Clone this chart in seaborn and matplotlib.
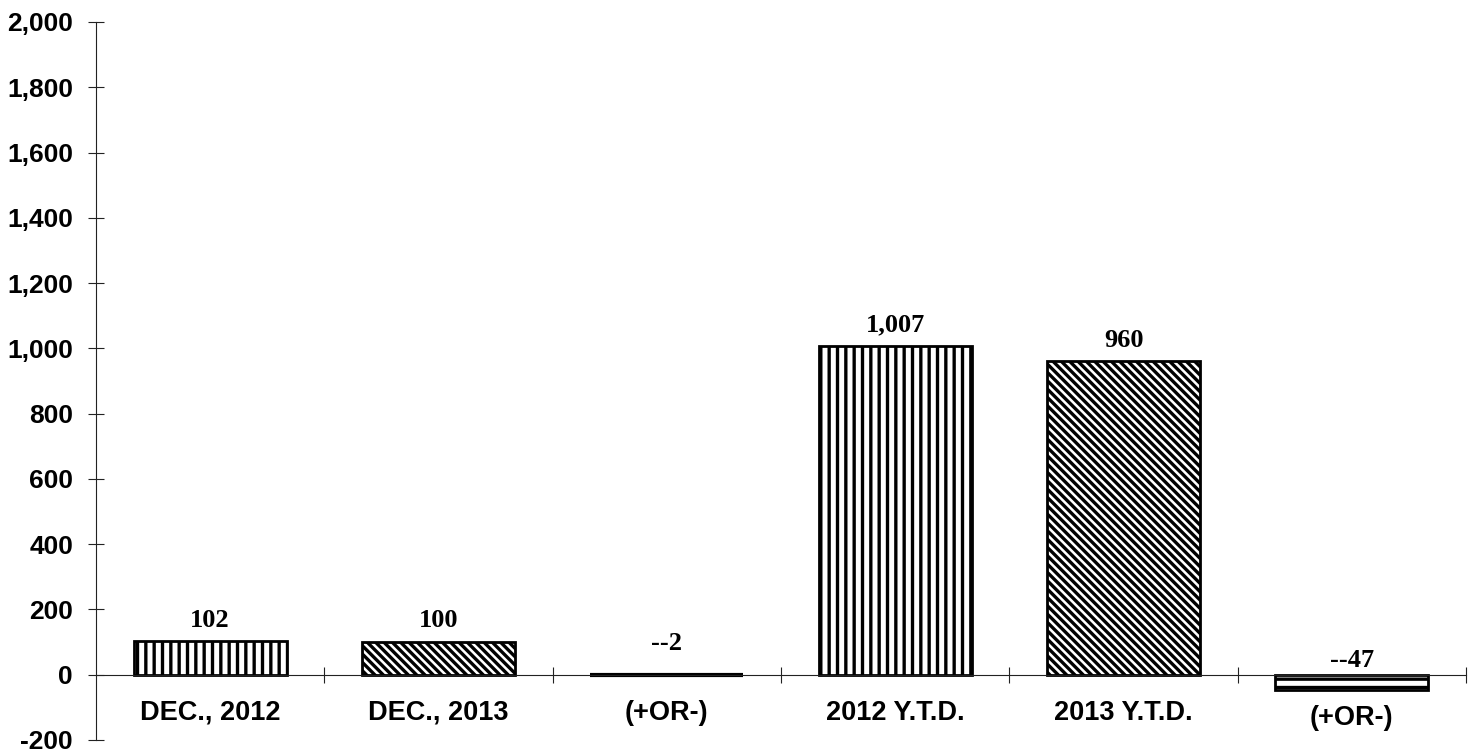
import matplotlib
matplotlib.use("Agg")
import matplotlib.pyplot as plt
import matplotlib.transforms as mtransforms
from matplotlib.ticker import FixedLocator, StrMethodFormatter
import pandas as pd
import seaborn as sns

# values
categories = ["DEC., 2012", "DEC., 2013", "(+OR-)", "2012 Y.T.D.", "2013 Y.T.D.", "(+OR-)"]
values = [102, 100, -2, 1007, 960, -47]
value_labels = ["102", "100", "--2", "1,007", "960", "--47"]
y_ticks = list(range(-200, 2001, 200))

# styling per bar
hatches = ["||", "\\\\\\\\", "", "||", "\\\\\\\\", "--"]
edge_widths = [2.0, 2.0, 3.0, 2.0, 2.0, 2.0]
label_pad = [7, 7, 14, 7, 7, 2]  # points above bar top (or zero line)


def main():
    sns.set_style("white")
    plt.rcParams["font.family"] = ["Liberation Sans", "DejaVu Sans"]
    plt.rcParams["axes.unicode_minus"] = False
    plt.rcParams["hatch.linewidth"] = 2.4
    plt.rcParams["hatch.color"] = "black"
    plt.rcParams["text.color"] = "black"

    df = pd.DataFrame({"pos": range(len(values)), "value": values})

    fig = plt.figure(figsize=(14.77, 7.55), dpi=100)
    ax = fig.add_axes([0.0650, 0.0199, 0.9276, 0.9510])

    sns.barplot(
        data=df, x="pos", y="value", ax=ax,
        color="white", edgecolor="black", linewidth=2.0,
        width=0.67, saturation=1,
    )
    for bar, h, lw in zip(ax.patches, hatches, edge_widths):
        bar.set_hatch(h)
        bar.set_linewidth(lw)

    for i, (v, lab, pad) in enumerate(zip(values, value_labels, label_pad)):
        ax.annotate(
            lab, xy=(i, max(v, 0)), xytext=(0, pad), textcoords="offset points",
            ha="center", va="bottom", fontsize=19, fontweight="bold", color="black",
            family=["Liberation Serif", "DejaVu Serif"],
        )

    ax.set_xlim(-0.5, 5.5)
    ax.set_ylim(-200, 2000)
    ax.set_yticks(y_ticks)
    ax.yaxis.set_major_formatter(StrMethodFormatter("{x:,.0f}"))

    ax.set_xticks(range(len(categories)))
    ax.set_xticklabels(categories)
    ax.xaxis.set_minor_locator(FixedLocator([i + 0.5 for i in range(len(categories))]))

    ax.spines["top"].set_visible(False)
    ax.spines["right"].set_visible(False)
    ax.spines["bottom"].set_position(("data", 0))
    for s in ("left", "bottom"):
        ax.spines[s].set_color("#222222")
        ax.spines[s].set_linewidth(0.8)

    ax.tick_params(axis="y", direction="inout", length=11, width=0.8, pad=11,
                   labelsize=19, color="#222222", labelcolor="black", left=True)
    ax.tick_params(axis="x", which="major", length=0, pad=18, labelsize=19.5,
                   labelcolor="black")
    ax.tick_params(axis="x", which="minor", direction="inout", length=11,
                   width=0.8, color="#222222", bottom=True)
    for t in ax.get_xticklabels() + ax.get_yticklabels():
        t.set_fontweight("bold")

    # the last label sits under its negative bar, a little lower than the rest
    last = ax.get_xticklabels()[-1]
    last.set_transform(last.get_transform()
                       + mtransforms.ScaledTranslation(0, -4 / 72, fig.dpi_scale_trans))

    ax.set_xlabel("")
    ax.set_ylabel("")
    ax.grid(False)

    fig.savefig("out.png", dpi=100)
    plt.close(fig)


if __name__ == "__main__":
    main()
